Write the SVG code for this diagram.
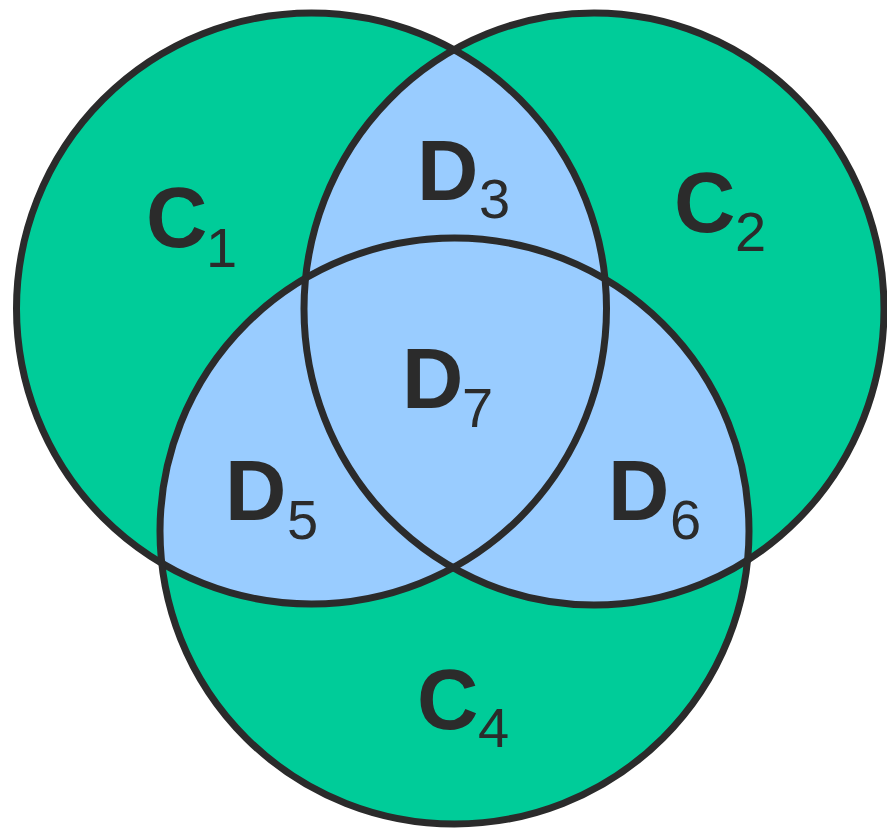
<svg xmlns="http://www.w3.org/2000/svg" width="887" height="830" viewBox="0 0 887 830">
  <style>
    .green { fill: #00CC99; }
    .blue { fill: #99CCFF; }
    .outline { fill: none; stroke: #2B2B2B; stroke-width: 7; }
    .main { font-family: "Liberation Sans", Arial, sans-serif; font-weight: bold; font-size: 85px; fill: #2B2B2B; }
    .sub { font-family: "Liberation Sans", Arial, sans-serif; font-weight: normal; font-size: 56px; fill: #2B2B2B; }
  </style>
  <defs>
    <clipPath id="clipC1"><ellipse cx="311.5" cy="308.5" rx="295" ry="295.5"/></clipPath>
    <clipPath id="clipC4"><ellipse cx="454.5" cy="531" rx="294.5" ry="293"/></clipPath>
  </defs>
  <g id="fills">
    <ellipse class="green" cx="311.5" cy="308.5" rx="295" ry="295.5"/>
    <ellipse class="green" cx="594" cy="309" rx="290" ry="296"/>
    <ellipse class="green" cx="454.5" cy="531" rx="294.5" ry="293"/>
    <g clip-path="url(#clipC1)">
      <ellipse class="blue" cx="594" cy="309" rx="290" ry="296"/>
    </g>
    <g clip-path="url(#clipC4)">
      <ellipse class="blue" cx="311.5" cy="308.5" rx="295" ry="295.5"/>
      <ellipse class="blue" cx="594" cy="309" rx="290" ry="296"/>
    </g>
  </g>
  <g id="C1">
    <ellipse class="outline" cx="311.5" cy="308.5" rx="295" ry="295.5"/>
    <text class="main" x="146" y="247">C</text><text class="sub" x="206" y="267">1</text>
  </g>
  <g id="C2">
    <ellipse class="outline" cx="594" cy="309" rx="290" ry="296"/>
    <text class="main" x="674" y="232">C</text><text class="sub" x="735" y="251">2</text>
  </g>
  <g id="C4">
    <ellipse class="outline" cx="454.5" cy="531" rx="294.5" ry="293"/>
    <text class="main" x="417" y="729">C</text><text class="sub" x="478" y="747">4</text>
  </g>
  <g id="D3">
    <text class="main" x="417" y="200">D</text><text class="sub" x="479" y="218">3</text>
  </g>
  <g id="D7">
    <text class="main" x="402" y="408">D</text><text class="sub" x="462" y="427">7</text>
  </g>
  <g id="D5">
    <text class="main" x="225" y="520">D</text><text class="sub" x="287" y="539">5</text>
  </g>
  <g id="D6">
    <text class="main" x="608" y="520">D</text><text class="sub" x="670" y="539">6</text>
  </g>
  <g id="connectors"></g>
</svg>
